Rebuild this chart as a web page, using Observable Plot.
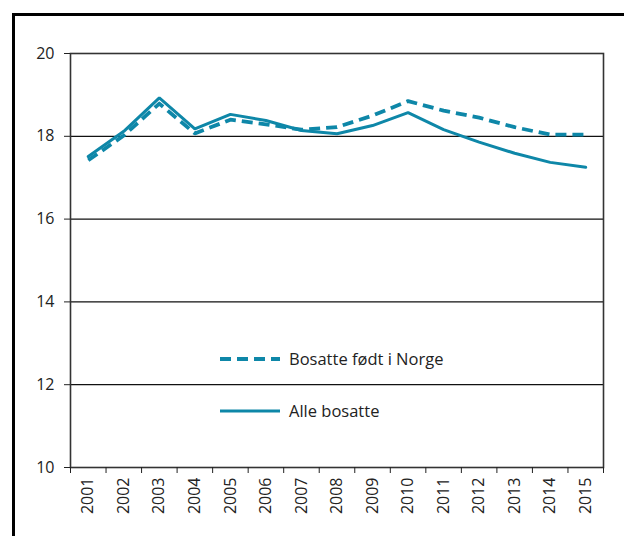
<!DOCTYPE html>
<html>
<head>
<meta charset="utf-8">
<script src="https://cdn.jsdelivr.net/npm/d3@7"></script>
<script src="https://cdn.jsdelivr.net/npm/@observablehq/plot@0.6"></script>
<style>
  html, body { margin: 0; padding: 0; background: #fff; overflow: hidden; }
  #wrap { position: relative; width: 624px; height: 536px; overflow: hidden; font-family: "Open Sans", sans-serif; }
  #border { position: absolute; left: 12px; top: 13px; width: 700px; height: 700px; border-left: 3px solid #000; border-top: 3px solid #000; }
  #chart { position: absolute; left: 0; top: 0; }
  .leg { position: absolute; left: 219px; display: flex; align-items: center; font-size: 16.5px; color: #222; }
  .leg svg { margin-right: 8px; }
</style>
</head>
<body>
<div id="wrap">
  <div id="border"></div>
  <div id="chart"></div>
  <div id="legend"></div>
</div>
<script>
const years = [2001, 2002, 2003, 2004, 2005, 2006, 2007, 2008, 2009, 2010, 2011, 2012, 2013, 2014, 2015];
const alleBosatte = [17.51, 18.12, 18.93, 18.18, 18.53, 18.38, 18.14, 18.06, 18.26, 18.57, 18.16, 17.86, 17.59, 17.37, 17.25];
const fodtINorge = [17.42, 18.02, 18.79, 18.07, 18.40, 18.29, 18.16, 18.22, 18.50, 18.85, 18.62, 18.45, 18.22, 18.04, 18.04];
const yTicks = [10, 12, 14, 16, 18, 20];
const seriesNames = ["Bosatte født i Norge", "Alle bosatte"];

const color = "#0e87a8";
const dash = "11,6";

const dataAlle = years.map((y, i) => ({year: y, value: alleBosatte[i]}));
const dataNorge = years.map((y, i) => ({year: y, value: fodtINorge[i]}));
const boundaries = years.map(y => y - 0.5).concat([years[years.length - 1] + 0.5]);

const plot = Plot.plot({
  width: 624,
  height: 536,
  marginLeft: 70,
  marginRight: 21,
  marginTop: 53,
  marginBottom: 69,
  style: {fontFamily: "Open Sans, sans-serif", fontSize: "16px", color: "#222", background: "transparent"},
  x: {type: "linear", domain: [years[0] - 0.5, years[years.length - 1] + 0.5]},
  y: {domain: [10, 20]},
  marks: [
    Plot.gridY([12, 14, 16, 18], {stroke: "#111", strokeOpacity: 1, strokeWidth: 1.3}),
    Plot.frame({stroke: "#333", strokeWidth: 1.6}),
    Plot.axisY(yTicks, {tickSize: 6, tickPadding: 10, stroke: "#222", fill: "#222", fontSize: 16, label: null, tickFormat: d => String(d)}),
    Plot.axisX(boundaries, {tickSize: 6, tickFormat: () => "", stroke: "#222", label: null}),
    Plot.axisX(years, {tickSize: 0, tickPadding: 10, tickRotate: -90, fill: "#222", fontSize: 16, label: null, tickFormat: d => String(d)}),
    Plot.line(dataAlle, {x: "year", y: "value", stroke: color, strokeWidth: 3, strokeLinejoin: "miter"}),
    Plot.line(dataNorge, {x: "year", y: "value", stroke: color, strokeWidth: 3.8, strokeDasharray: dash, strokeLinecap: "butt"})
  ]
});
document.getElementById("chart").appendChild(plot);

// Legend (HTML overlay)
const legend = document.getElementById("legend");
const legItems = [
  {name: seriesNames[0], dashed: true, top: 347},
  {name: seriesNames[1], dashed: false, top: 399}
];
legItems.forEach(it => {
  const div = document.createElement("div");
  div.className = "leg";
  div.style.top = it.top + "px";
  div.innerHTML = `<svg width="62" height="22"><line x1="1" x2="61" y1="11" y2="11" stroke="${color}" stroke-width="${it.dashed ? 3.8 : 3}" ${it.dashed ? `stroke-dasharray="${dash}"` : ""}/></svg><span>${it.name}</span>`;
  legend.appendChild(div);
});
</script>
</body>
</html>
